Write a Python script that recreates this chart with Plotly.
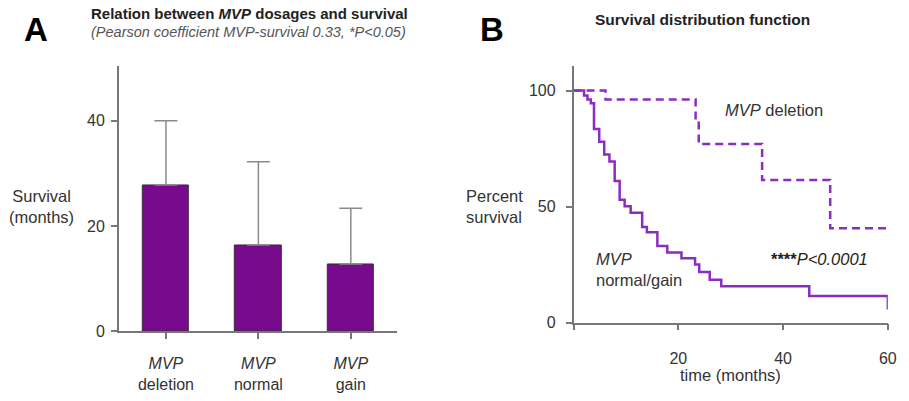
import plotly.graph_objects as go

# ---------------- data ----------------
groups = ["<i>MVP</i><br>deletion", "<i>MVP</i><br>normal", "<i>MVP</i><br>gain"]
mean_survival = [27.8, 16.4, 12.8]
sd_upper = [12.2, 15.8, 10.6]

del_time = [0, 6.1, 23.3, 23.9, 36.0, 49.0, 60]
del_surv = [100, 96.2, 86.8, 77.0, 61.5, 40.7, 40.7]

ng_time = [0, 2.0, 2.65, 3.3, 3.9, 4.9, 5.85, 6.85, 7.85, 8.8, 9.75, 10.9, 13.1, 14.0,
           16.0, 17.9, 20.6, 23.2, 24.0, 26.0, 28.2, 45.0, 60.0]
ng_surv = [100, 97.9, 96.2, 94.5, 83.5, 78.0, 72.5, 69.4, 61.0, 53.0, 50.2, 47.3, 41.2, 38.9,
           33.0, 30.2, 27.7, 25.0, 21.8, 18.5, 15.7, 11.5, 5.6]

W, H = 909, 401
def px(x): return x / W
def py(y): return 1 - y / H

FONT = "Arial, Liberation Sans, sans-serif"
TXT = "#333333"
AX = "#777777"
BAR = "#780a8e"
CURVE = "#8c2cc0"

fig = go.Figure()

fig.add_trace(go.Bar(
    x=[0, 1, 2], y=mean_survival, width=0.5,
    marker=dict(color=BAR, line=dict(color="#3a2a3a", width=1)),
    error_y=dict(type="data", symmetric=False, array=sd_upper,
                 arrayminus=[0, 0, 0], color="#8a8a8a", thickness=1.5, width=11.5),
    xaxis="x", yaxis="y", showlegend=False))

fig.add_trace(go.Scatter(
    x=del_time, y=del_surv, mode="lines", line=dict(shape="hv", color=CURVE, width=2.5, dash="8px,5px"),
    xaxis="x2", yaxis="y2", showlegend=False))
fig.add_trace(go.Scatter(
    x=ng_time, y=ng_surv, mode="lines", line=dict(shape="hv", color=CURVE, width=2.5),
    xaxis="x2", yaxis="y2", showlegend=False))

axcommon = dict(showline=True, linecolor=AX, linewidth=1.5, ticks="outside", tickcolor=AX,
                ticklen=6, tickwidth=1.5, showgrid=False, zeroline=False,
                tickfont=dict(family=FONT, size=16, color=TXT))

fig.update_layout(
    width=W, height=H, margin=dict(l=0, r=0, t=0, b=0),
    paper_bgcolor="white", plot_bgcolor="white",
    bargap=0,
    xaxis=dict(domain=[px(120), px(401)], range=[-0.51, 2.5], tickvals=[0, 1, 2],
               ticktext=groups, anchor="y", ticklabelstandoff=11, **axcommon),
    yaxis=dict(domain=[py(339), py(68)], range=[0, 50.3], tickvals=[0, 20, 40],
               anchor="x", ticklabelstandoff=3, **axcommon),
    xaxis2=dict(domain=[px(579.3), px(896.7)], range=[0, 60], tickvals=[0, 20, 40, 60],
                ticktext=["", "20", "40", "60"], anchor="y2", ticklabelstandoff=14, **axcommon),
    yaxis2=dict(domain=[py(330), py(68)], range=[0, 110.4], tickvals=[0, 50, 100],
                anchor="x2", ticklabelstandoff=7, **axcommon),
)

def ann(x, y, text, size=16, color=TXT, xanchor="center", align="center"):
    fig.add_annotation(x=px(x), y=py(y), xref="paper", yref="paper", text=text,
                       showarrow=False, xanchor=xanchor, yanchor="middle", align=align,
                       font=dict(family=FONT, size=size, color=color))

ann(36, 30, "<b>A</b>", size=33, color="#000000")
ann(497, 30, "<b>B</b>", size=33, color="#000000")
ann(252, 14, "<b>Relation between <i>MVP</i> dosages and survival</b>", size=15, color="#222222")
ann(251, 33, "<i>(Pearson coefficient MVP-survival 0.33, *P&lt;0.05)</i>", size=14.5, color="#555555")
ann(710, 20, "<b>Survival distribution function</b>", size=15.5, color="#222222")
ann(42, 211, "Survival<br>(months)", size=16.5)
ann(469, 211, "Percent<br>survival", size=16.5, xanchor="left", align="left")
ann(738, 384, "time (months)", size=16.5)
ann(782, 113, "<i>MVP</i> deletion", size=16.5)
ann(777, 265, "<b>****</b><i>P&lt;0.0001</i>", size=16.5, color="#222222", xanchor="left")
ann(600, 276, "<i>MVP</i><br>normal/gain", size=16.5, xanchor="left", align="left")

fig.write_html(
    "out.html",
    config={"displayModeBar": False},
    post_script=("document.documentElement.style.margin='0';"
                 "document.documentElement.style.overflow='hidden';"
                 "document.body.style.margin='0';"
                 "document.body.style.overflow='hidden';"),
)
